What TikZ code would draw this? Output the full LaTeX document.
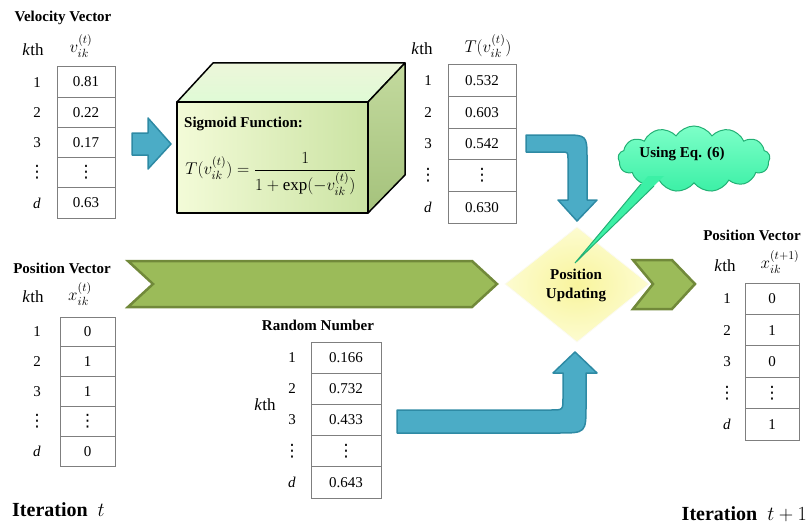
\RequirePackage{fix-cm}
\documentclass[tikz,border=0pt]{standalone}
\usepackage{amsmath}
\usepackage{fontspec}
\setmainfont{Liberation Serif}
\newfontfamily\symfont{DejaVu Sans}
\usetikzlibrary{shapes.geometric,shapes.symbols}
\definecolor{arrowblue}{HTML}{4BACC6}
\definecolor{arrowblueD}{HTML}{2E8AA4}
\definecolor{chevgreen}{HTML}{9BBB59}
\definecolor{chevgreenD}{HTML}{71893A}
\definecolor{cellgray}{HTML}{7F7F7F}
\definecolor{mint}{HTML}{3CF0A6}
\definecolor{mintL}{HTML}{7DFFC8}
\definecolor{mintD}{HTML}{22B074}
\definecolor{diayel}{HTML}{F8F49C}
\definecolor{diayelL}{HTML}{FDFCD0}
\definecolor{frontL}{HTML}{F3FBD8}
\definecolor{frontD}{HTML}{CBE3A3}
\definecolor{topface}{HTML}{EDF6DA}
\definecolor{rightL}{HTML}{C3DA9E}
\definecolor{rightD}{HTML}{A5C27C}
\newcommand{\vdts}{{\symfont\fontsize{17}{17}\selectfont ⋮}}
\tikzset{
  cell/.style={draw=cellgray, line width=1pt, fill=white, inner sep=0pt, font=\fontsize{15}{17}\selectfont},
  rowlab/.style={inner sep=0pt, font=\fontsize{15}{17}\selectfont},
  titletext/.style={inner sep=0pt, font=\fontsize{15}{18}\selectfont\bfseries},
  hdr/.style={inner sep=0pt, font=\fontsize{17}{19}\selectfont},
  itertext/.style={inner sep=0pt, font=\fontsize{20}{24}\selectfont\bfseries},
  blockarrow/.style={fill=arrowblue, draw=arrowblueD, line width=1.5pt, line join=round},
  chevron/.style={fill=chevgreen, draw=chevgreenD, line width=2.5pt, line join=miter},
  boxedge/.style={draw=black, line width=1.5pt, line join=round},
}
% #1 prefix, #2 label x, #3 x0, #4 x1, #5 ytop, #6 row height, #7 list
\newcommand{\mktable}[7]{%
  \foreach \lab/\val [count=\i] in {#7} {
    \node[cell, minimum width={(#4-#3)*1pt}, minimum height=#6pt]
      (#1\i) at ({(#3+#4)/2}, {#5+(\i-0.5)*#6}) {\val};
    \node[rowlab] (#1l\i) at (#2, {#5+(\i-0.5)*#6}) {\lab};
  }%
}
\begin{document}
\begin{tikzpicture}[x=1pt,y=-1pt]
\path[use as bounding box] (0,0) rectangle (809,527);

% ---------- tables ----------
\node[titletext] (velT) at (63,18) {Velocity Vector};
\node[hdr] (velk) at (33,50) {\textit{k}th};
\node[hdr] (velv) at (81,46) {$v_{ik}^{(t)}$};
\mktable{v}{37}{57}{115}{67}{30.2}{1/0.81, 2/0.22, 3/0.17, \vdts/\vdts, \textit{d}/0.63}

\node[hdr] (Tk) at (422,49) {\textit{k}th};
\node[hdr] (Tv) at (488,46) {$T(v_{ik}^{(t)})$};
\mktable{T}{428}{448}{516}{65}{31.6}{1/0.532, 2/0.603, 3/0.542, \vdts/\vdts, \textit{d}/0.630}

\node[titletext] (posLT) at (62,268) {Position Vector};
\node[hdr] (posLk) at (33,297) {\textit{k}th};
\node[hdr] (posLx) at (80,294) {$x_{ik}^{(t)}$};
\mktable{p}{37}{60}{115}{317}{29.8}{1/0, 2/1, 3/1, \vdts/\vdts, \textit{d}/0}

\node[titletext] (randT) at (318,325) {Random Number};
\node[hdr] (randk) at (265,405) {\textit{k}th};
\mktable{r}{292}{311}{381}{342}{31.2}{1/0.166, 2/0.732, 3/0.433, \vdts/\vdts, \textit{d}/0.643}

\node[titletext] (posRT) at (752,235) {Position Vector};
\node[hdr] (posRk) at (725,266) {\textit{k}th};
\node[hdr] (posRx) at (780,262) {$x_{ik}^{(t+1)}$};
\mktable{q}{727}{745}{799}{283}{31.4}{1/0, 2/1, 3/0, \vdts/\vdts, \textit{d}/1}

% ---------- 3D sigmoid box ----------
\path[boxedge, top color=topface, bottom color=topface!85!green!60!white]
  (177,102) -- (213,63) -- (405,63) -- (368,102) -- cycle;
\path[boxedge, top color=rightL, bottom color=rightD]
  (368,102) -- (405,63) -- (405,175) -- (368,213) -- cycle;
\path[boxedge, shading=axis, shading angle=45, left color=frontL, right color=frontD]
  (177,102) rectangle (368,213);
\node[titletext, anchor=west] (sigT) at (184,124) {Sigmoid Function:};
\node[inner sep=0pt, font=\fontsize{17}{20}\selectfont] (sigF) at (271,174)
  {$T(v_{ik}^{(t)})=\dfrac{1}{1+\exp(-v_{ik}^{(t)})}$};

% ---------- blue arrows ----------
\path[blockarrow] (132,133) -- (148,133) -- (148,118) -- (171,144) -- (148,169)
  -- (148,155) -- (132,155) -- cycle;
\path[blockarrow] (526,135) -- (563,135) .. controls (587,135) .. (587,159)
  -- (587,200) -- (597,200) -- (577,221) -- (558,200) -- (568,200)
  -- (568,159) .. controls (568,152) .. (561,152) -- (526,152) -- cycle;
\path[blockarrow] (397,410) -- (551,410) .. controls (563,410) .. (563,398)
  -- (563,373) -- (553,373) -- (575,352) -- (597,373) -- (586,373)
  -- (586,405) .. controls (586,433) .. (558,433) -- (397,433) -- cycle;

% ---------- green chevrons ----------
\path[chevron] (128,261) -- (472,261) -- (497,284) -- (472,307) -- (128,307)
  -- (153,284) -- cycle;
\path[chevron] (633,260) -- (672,260) -- (695,284) -- (672,309) -- (633,309)
  -- (653,284) -- cycle;

% ---------- diamond ----------
\path[inner color=diayel, outer color=diayelL, draw=diayel!85!black!10!white, line width=0.8pt]
  (577,227) -- (649,284) -- (577,342) -- (505,284) -- cycle;

% ---------- cloud callout ----------
\coordinate (ptip) at (575,263);
\node[cloud, cloud puffs=13, cloud puff arc=115, aspect=2.3,
      minimum width=152pt, minimum height=66pt, inner sep=0pt,
      top color=mintL, bottom color=mint, draw=mintD, line width=1pt]
  (cloud) at (694,159) {};
\fill[mint] (648,176) -- (ptip) -- (664,176) -- cycle;
\draw[mintD, line width=1pt] (641,184) -- (ptip) -- (654,186);
\node[titletext] (cloudT) at (682,154) {Using Eq. (6)};

\node[titletext, align=center] (diaT) at (576,285) {Position\\[1pt]Updating};

% ---------- iteration labels ----------
\node[itertext, anchor=west] (it1) at (12,510) {Iteration~~$t$};
\node[itertext, anchor=east] (it2) at (807,514) {Iteration~~$t+1$};
\end{tikzpicture}
\end{document}
